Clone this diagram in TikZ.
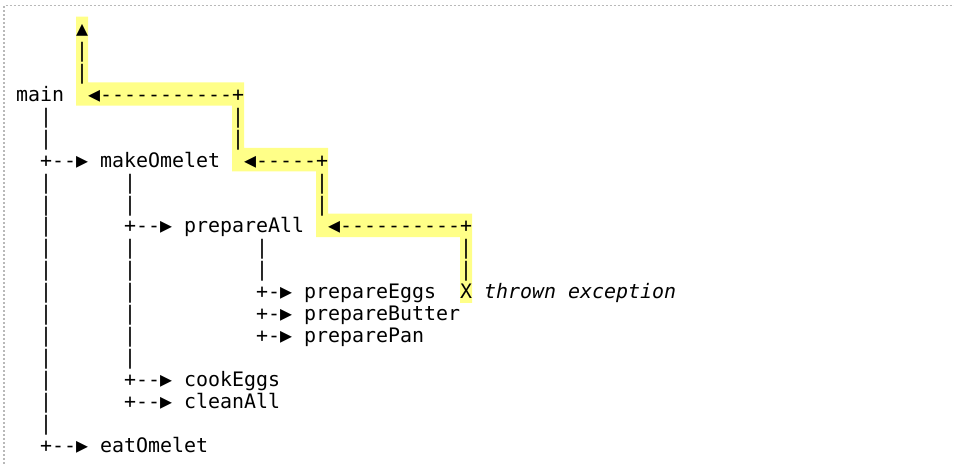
\documentclass[tikz,border=0pt]{standalone}
\usepackage{fontspec}
\setmonofont{DejaVu Sans Mono}
\definecolor{hilite}{RGB}{255,255,136}

\begin{document}
\begin{tikzpicture}[x=12pt, y=-21.9pt,
    code/.style={anchor=base west, inner sep=0pt, yshift=-6.4pt, font=\ttfamily\fontsize{19.93}{22}\selectfont},
    note/.style={code, font=\ttfamily\itshape\fontsize{19.93}{22}\selectfont}]
        \useasboundingbox (-1.3333,-1.347) rectangle (78.1667,19.84);
        \draw[gray!55, line width=1.6pt, dash pattern=on 2pt off 2pt] (-1,19.84) -- (-1,-1.096) -- (78.1667,-1.096);

        % path of the exception
        \fill[hilite] (5,-0.59) rectangle (6,3.48)
                      (5,2.41) rectangle (19,3.48)
                      (18,2.41) rectangle (19,6.48)
                      (18,5.41) rectangle (26,6.48)
                      (25,5.41) rectangle (26,9.48)
                      (25,8.41) rectangle (38,9.48)
                      (37,8.41) rectangle (38,12.48);

        % calls
        \node[code] (main) at (0,3) {main};
        \node[code] (makeOmelet) at (7,6) {makeOmelet};
        \node[code] (prepareAll) at (14,9) {prepareAll};
        \node[code] (prepareEggs) at (24,12) {prepareEggs};
        \node[code] (prepareButter) at (24,13) {prepareButter};
        \node[code] (preparePan) at (24,14) {preparePan};
        \node[code] (cookEggs) at (14,16) {cookEggs};
        \node[code] (cleanAll) at (14,17) {cleanAll};
        \node[code] (eatOmelet) at (7,19) {eatOmelet};
        \node[code] (X) at (37,12) {X};
        \node[note] (thrown) at (39,12) {thrown exception};

        % branches
        \node[code] (br-make) at (2,6) {+--▶};
        \node[code] (br-prep) at (9,9) {+--▶};
        \node[code] (br-eggs) at (20,12) {+-▶};
        \node[code] (br-butter) at (20,13) {+-▶};
        \node[code] (br-pan) at (20,14) {+-▶};
        \node[code] (br-cook) at (9,16) {+--▶};
        \node[code] (br-clean) at (9,17) {+--▶};
        \node[code] (br-eat) at (2,19) {+--▶};

        % unwinding
        \node[code] (up) at (5,0) {▲};
        \node[code] (back-main) at (6,3) {◀-----------+};
        \node[code] (back-make) at (19,6) {◀-----+};
        \node[code] (back-prep) at (26,9) {◀----------+};

        % vertical bars
        \foreach \r in {4,5,7,8,...,18}
            \node[code] (bar-2-\r) at (2,\r) {|};
        \foreach \r in {7,8,10,11,...,15}
            \node[code] (bar-9-\r) at (9,\r) {|};
        \foreach \c/\r in {5/1,5/2,18/4,18/5,25/7,25/8,20/10,20/11,37/10,37/11}
            \node[code] (bar-\c-\r) at (\c,\r) {|};
\end{tikzpicture}
\end{document}
